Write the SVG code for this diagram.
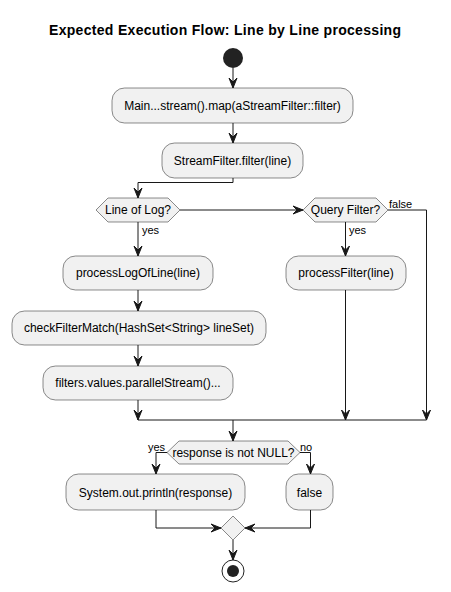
<svg xmlns="http://www.w3.org/2000/svg" width="451" height="592" viewBox="0 0 451 592">
<style>
.box{fill:#F1F1F1;stroke:#181818;stroke-width:0.5}
.t{font-family:"Liberation Sans",Arial,sans-serif;font-size:12px;fill:#000;text-anchor:middle}
.l{font-family:"Liberation Sans",Arial,sans-serif;font-size:11px;fill:#000}
.title{font-family:"Liberation Sans",Arial,sans-serif;font-size:14px;font-weight:bold;fill:#000;text-anchor:middle}
.e{fill:none;stroke:#181818;stroke-width:1}
.ah{fill:#181818;stroke:#181818;stroke-width:1}
</style>
<defs>
<polygon id="ad" points="-4,-10 0,0 4,-10 0,-6"/>
<polygon id="ar" points="-10,-4 0,0 -10,4 -6,0"/>
<polygon id="al" points="10,-4 0,0 10,4 6,0"/>
</defs>
<rect width="451" height="592" fill="#FFFFFF"/>
<text class="title" x="225" y="35" textLength="352" lengthAdjust="spacing">Expected Execution Flow: Line by Line processing</text>
<g id="start"><circle cx="233" cy="58" r="10" fill="#222222"/></g>
<g id="main"><rect class="box" x="112" y="88" width="241" height="35" rx="12.5"/><text class="t" x="232.5" y="110">Main...stream().map(aStreamFilter::filter)</text></g>
<g id="streamfilter"><rect class="box" x="162" y="143" width="141" height="35" rx="12.5"/><text class="t" x="232.5" y="165">StreamFilter.filter(line)</text></g>
<g id="lineoflog"><polygon class="box" points="96,210 108,198 168,198 180,210 168,222 108,222"/><text class="t" x="138" y="214">Line of Log?</text></g>
<g id="queryfilter"><polygon class="box" points="303,210 315,198 376,198 388,210 376,222 315,222"/><text class="t" x="345.5" y="214">Query Filter?</text></g>
<g id="processlog"><rect class="box" x="63" y="256" width="150" height="34" rx="12.5"/><text class="t" x="138" y="277">processLogOfLine(line)</text></g>
<g id="processfilter"><rect class="box" x="286" y="256" width="120" height="34" rx="12.5"/><text class="t" x="346" y="277">processFilter(line)</text></g>
<g id="checkfilter"><rect class="box" x="12" y="311" width="254" height="34" rx="12.5"/><text class="t" x="139" y="332">checkFilterMatch(HashSet&lt;String&gt; lineSet)</text></g>
<g id="filtersvalues"><rect class="box" x="43" y="366" width="190" height="34" rx="12.5"/><text class="t" x="138" y="387">filters.values.parallelStream()...</text></g>
<g id="response"><polygon class="box" points="167,452.5 179,441 288,441 300,452.5 288,464 179,464"/><text class="t" x="233.5" y="457">response is not NULL?</text></g>
<g id="println"><rect class="box" x="66" y="474" width="179" height="36" rx="12.5"/><text class="t" x="155.5" y="496.5">System.out.println(response)</text></g>
<g id="falsebox"><rect class="box" x="286" y="474" width="47" height="36" rx="12.5"/><text class="t" x="309.5" y="496.5">false</text></g>
<g id="merge"><polygon class="box" points="233,516 245,528 233,540 221,528"/></g>
<g id="end"><circle cx="233" cy="571" r="11" fill="none" stroke="#222222" stroke-width="1"/><circle cx="233" cy="571" r="6" fill="#222222"/></g>
<g id="connectors">
<path class="e" d="M233,68 V88"/><use href="#ad" class="ah" x="233" y="88"/>
<path class="e" d="M233,123 V143"/><use href="#ad" class="ah" x="233" y="143"/>
<path class="e" d="M233,178 V182.5 H138 V198"/><use href="#ad" class="ah" x="138" y="198"/>
<path class="e" d="M180,210 H303"/><use href="#ar" class="ah" x="303" y="210"/>
<path class="e" d="M138,222 V256"/><use href="#ad" class="ah" x="138" y="256"/>
<text class="l" x="142" y="234">yes</text>
<path class="e" d="M345.5,222 V256"/><use href="#ad" class="ah" x="345.5" y="256"/>
<text class="l" x="349" y="234">yes</text>
<path class="e" d="M388,210 H426.5 V420"/><use href="#ad" class="ah" x="426.5" y="420"/>
<text class="l" x="389" y="208">false</text>
<path class="e" d="M138,290 V311"/><use href="#ad" class="ah" x="138" y="311"/>
<path class="e" d="M138,345 V366"/><use href="#ad" class="ah" x="138" y="366"/>
<path class="e" d="M138,400 V420"/><use href="#ad" class="ah" x="138" y="420"/>
<path class="e" d="M345.5,290 V420"/><use href="#ad" class="ah" x="345.5" y="420"/>
<path class="e" d="M138,420 H426.5"/>
<path class="e" d="M233,420 V441"/><use href="#ad" class="ah" x="233" y="441"/>
<path class="e" d="M167,452.5 H156 V474"/><use href="#ad" class="ah" x="156" y="474"/>
<text class="l" x="148" y="451">yes</text>
<path class="e" d="M300,452.5 H310.5 V474"/><use href="#ad" class="ah" x="310.5" y="474"/>
<text class="l" x="300" y="451">no</text>
<path class="e" d="M156,510 V528 H221"/><use href="#ar" class="ah" x="221" y="528"/>
<path class="e" d="M310.5,510 V528 H245"/><use href="#al" class="ah" x="245" y="528"/>
<path class="e" d="M233,540 V560"/><use href="#ad" class="ah" x="233" y="560"/>
</g>
</svg>
